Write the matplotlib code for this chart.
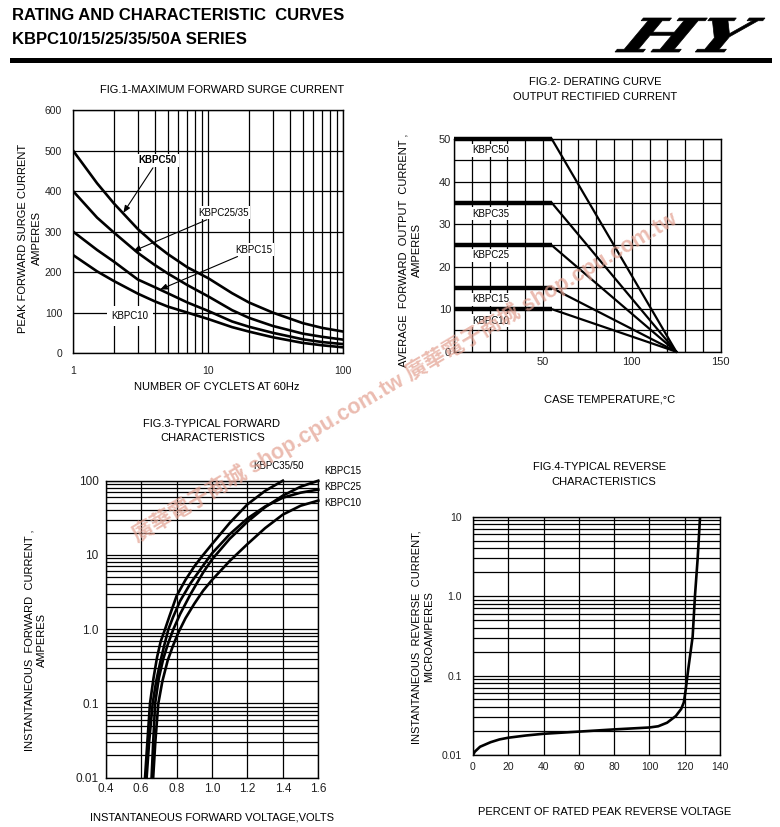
import numpy as np
import matplotlib
matplotlib.use("Agg")
import matplotlib.pyplot as plt
from matplotlib.ticker import FixedLocator, FixedFormatter, NullFormatter, LogLocator, MultipleLocator
from matplotlib.patches import Rectangle, PathPatch
from matplotlib.textpath import TextPath
from matplotlib.font_manager import FontProperties
from matplotlib.transforms import Affine2D

plt.rcParams['font.family'] = ['Liberation Sans', 'DejaVu Sans']

# ---------------- data ----------------
# Fig.1 maximum forward surge current
surge_cycles = [1, 1.5, 2, 3, 4, 5, 7, 10, 15, 20, 30, 50, 70, 100]
surge_kbpc50 = [500, 420, 370, 307, 270, 245, 212, 185, 148, 125, 100, 74, 62, 53]
surge_kbpc25_35 = [400, 335, 298, 248, 218, 197, 168, 140, 106, 87, 67, 48, 40, 33]
surge_kbpc15 = [300, 255, 226, 182, 163, 148, 125, 104, 78, 65, 50, 34, 27, 22]
surge_kbpc10 = [242, 202, 178, 147, 128, 115, 100, 84, 64, 53, 39, 25, 19, 14]

# Fig.2 derating curve
derate_models = ['KBPC50', 'KBPC35', 'KBPC25', 'KBPC15', 'KBPC10']
derate_levels = [50, 35, 25, 15, 10]
derate_knee_temp = 55
derate_zero_temp = 125

# Fig.3 typical forward characteristics
fwd_v_35_50 = [0.622, 0.635, 0.65, 0.67, 0.69, 0.71, 0.735, 0.76, 0.80, 0.85, 0.90, 0.95, 1.0, 1.1, 1.2, 1.3, 1.4]
fwd_i_35_50 = [0.01, 0.03, 0.1, 0.22, 0.42, 0.68, 1.0, 1.5, 2.8, 4.6, 7.0, 10, 14, 27, 48, 73, 100]
fwd_v_25 = [0.631, 0.645, 0.665, 0.685, 0.71, 0.73, 0.754, 0.78, 0.82, 0.88, 0.95, 1.0, 1.1, 1.2, 1.3, 1.4, 1.5, 1.6]
fwd_i_25 = [0.01, 0.03, 0.1, 0.2, 0.38, 0.6, 1.0, 1.45, 2.4, 4.2, 7.2, 10.5, 19, 31, 45, 59, 69, 76]
fwd_v_15 = [0.659, 0.668, 0.679, 0.70, 0.725, 0.75, 0.782, 0.82, 0.88, 0.95, 1.0, 1.1, 1.2, 1.3, 1.4, 1.5, 1.6]
fwd_i_15 = [0.01, 0.03, 0.1, 0.22, 0.4, 0.62, 1.0, 1.6, 3.0, 5.8, 8.7, 16.5, 28, 44, 63, 83, 100]
fwd_v_10 = [0.668, 0.68, 0.697, 0.72, 0.75, 0.78, 0.81, 0.85, 0.9, 0.95, 1.0, 1.1, 1.2, 1.3, 1.4, 1.5, 1.6]
fwd_i_10 = [0.01, 0.03, 0.1, 0.2, 0.38, 0.6, 0.9, 1.4, 2.2, 3.3, 4.6, 8.3, 14, 23, 35, 46, 54]

# Fig.4 typical reverse characteristics
rev_pct = [0, 1, 4, 10, 15, 20, 30, 40, 60, 80, 100, 105, 110, 115, 118, 119.5, 120.5, 122, 124.5, 125.8, 127.3, 128.7]
rev_cur = [0.0100, 0.0110, 0.0127, 0.0145, 0.0157, 0.0165, 0.0176, 0.0185, 0.0197, 0.0210, 0.0222,
           0.0230, 0.0255, 0.031, 0.038, 0.046, 0.065, 0.12, 0.31, 1.0, 2.9, 10.0]

# ---------------- figure ----------------
W, H = 780, 827
fig = plt.figure(figsize=(W / 100, H / 100), dpi=100)


def add_ax(l, t, r, b):
    return fig.add_axes([l / W, 1 - b / H, (r - l) / W, (b - t) / H])


def style(ax):
    ax.set_axisbelow(True)
    ax.grid(which='both', color='black', lw=0.9)
    ax.tick_params(which='both', length=0, colors='#222222')
    for s in ax.spines.values():
        s.set_color('black')
        s.set_linewidth(1.0)


CURVE_LW = 1.9
LBL = dict(fontsize=7, color='black')
WB = dict(boxstyle='square,pad=0.15', fc='white', ec='none')

# ---- Fig.1 ----
ax1 = add_ax(73.3, 110.5, 343.3, 353)
ax1.set_xscale('log')
ax1.set_xlim(1, 100)
ax1.set_ylim(0, 600)
ax1.xaxis.set_major_locator(FixedLocator([1, 10, 100]))
ax1.xaxis.set_major_formatter(FixedFormatter(['1', '10', '100']))
ax1.xaxis.set_minor_locator(LogLocator(base=10, subs=range(2, 10)))
ax1.xaxis.set_minor_formatter(NullFormatter())
ax1.yaxis.set_major_locator(MultipleLocator(100))
style(ax1)
ax1.tick_params(axis='x', pad=9, labelsize=7.5)
ax1.tick_params(axis='y', pad=8, labelsize=7.5)
for ser in [surge_kbpc50, surge_kbpc25_35, surge_kbpc15, surge_kbpc10]:
    ax1.plot(surge_cycles, ser, color='black', lw=CURVE_LW, zorder=3)
arrow = dict(arrowstyle='-|>,head_length=0.6,head_width=0.25', color='black', lw=0.8, shrinkA=1, shrinkB=0)
ax1.annotate('KBPC50', xy=(2.35, 347), xytext=(4.24, 477), ha='center', va='center',
             fontweight='bold', bbox=WB, arrowprops=arrow, zorder=5, **LBL)
ax1.annotate('KBPC25/35', xy=(2.78, 252), xytext=(8.39, 347), ha='left', va='center',
             bbox=WB, arrowprops=arrow, zorder=5, **LBL)
ax1.annotate('KBPC15', xy=(4.39, 157), xytext=(15.9, 256), ha='left', va='center',
             bbox=WB, arrowprops=arrow, zorder=5, **LBL)
ax1.text(2.63, 91, 'KBPC10', ha='center', va='center', bbox=dict(boxstyle='square,pad=0.5', fc='white', ec='none'),
         zorder=5, **LBL)

# ---- Fig.2 ----
ax2 = add_ax(454, 139, 720.7, 351.7)
ax2.set_xlim(0, 150)
ax2.set_ylim(0, 50)
ax2.xaxis.set_major_locator(FixedLocator([50, 100, 150]))
ax2.xaxis.set_minor_locator(MultipleLocator(10))
ax2.yaxis.set_major_locator(MultipleLocator(10))
ax2.yaxis.set_minor_locator(MultipleLocator(5))
style(ax2)
ax2.tick_params(axis='x', pad=4, labelsize=8)
ax2.tick_params(axis='y', pad=2, labelsize=8)
derate_label_y = [47.3, 32.4, 22.7, 12.3, 7.3]
for name, lvl, ly in zip(derate_models, derate_levels, derate_label_y):
    ax2.plot([0, derate_knee_temp], [lvl, lvl], color='black', lw=3.2, zorder=3, solid_capstyle='butt',
             clip_on=False)
    ax2.plot([derate_knee_temp, derate_zero_temp], [lvl, 0], color='black', lw=1.6, zorder=3, clip_on=False)
    ax2.text(10, ly, name, ha='left', va='center', bbox=WB, zorder=4, **LBL)

# ---- Fig.3 ----
ax3 = add_ax(105.7, 480.7, 318.3, 777.7)
ax3.set_yscale('log')
ax3.set_xlim(0.4, 1.6)
ax3.set_ylim(0.01, 100)
ax3.xaxis.set_major_locator(FixedLocator([0.4, 0.6, 0.8, 1.0, 1.2, 1.4, 1.6]))
ax3.xaxis.set_major_formatter(FixedFormatter(['0.4', '0.6', '0.8', '1.0', '1.2', '1.4', '1.6']))
ax3.yaxis.set_major_locator(FixedLocator([0.01, 0.1, 1, 10, 100]))
ax3.yaxis.set_major_formatter(FixedFormatter(['0.01', '0.1', '1.0', '10', '100']))
ax3.yaxis.set_minor_locator(LogLocator(base=10, subs=range(2, 10)))
ax3.yaxis.set_minor_formatter(NullFormatter())
style(ax3)
ax3.tick_params(axis='x', pad=4, labelsize=8.5)
ax3.tick_params(axis='y', pad=5, labelsize=8.5)
for v, i in [(fwd_v_35_50, fwd_i_35_50), (fwd_v_25, fwd_i_25), (fwd_v_15, fwd_i_15), (fwd_v_10, fwd_i_10)]:
    ax3.plot(v, i, color='black', lw=CURVE_LW, zorder=3, clip_on=False)

# ---- Fig.4 ----
ax4 = add_ax(473, 516.7, 720, 755)
ax4.set_yscale('log')
ax4.set_xlim(0, 140)
ax4.set_ylim(0.01, 10)
ax4.xaxis.set_major_locator(MultipleLocator(20))
ax4.yaxis.set_major_locator(FixedLocator([0.01, 0.1, 1, 10]))
ax4.yaxis.set_major_formatter(FixedFormatter(['0.01', '0.1', '1.0', '10']))
ax4.yaxis.set_minor_locator(LogLocator(base=10, subs=range(2, 10)))
ax4.yaxis.set_minor_formatter(NullFormatter())
style(ax4)
ax4.tick_params(axis='x', pad=5, labelsize=7.5)
ax4.tick_params(axis='y', pad=8, labelsize=7.5)
ax4.plot(rev_pct, rev_cur, color='black', lw=CURVE_LW, zorder=3)

# ---------------- overlay (pixel coordinates) ----------------
ov = fig.add_axes([0, 0, 1, 1], zorder=20)
ov.set_xlim(0, W)
ov.set_ylim(H, 0)
ov.axis('off')
ov.patch.set_visible(False)

ov.text(12, 16, 'RATING AND CHARACTERISTIC  CURVES', fontsize=12, fontweight='bold', va='center', ha='left')
ov.text(12, 39, 'KBPC10/15/25/35/50A SERIES', fontsize=12, fontweight='bold', va='center', ha='left')
ov.add_patch(Rectangle((10, 58), 762, 5, color='black', lw=0))

# logo
fp = FontProperties(family='DejaVu Serif', weight='bold', style='italic')
tp = TextPath((0, 0), 'HY', size=1, prop=fp)
p1 = Affine2D().skew_deg(18, 0).transform_path(tp)
e = p1.get_extents()
p2 = Affine2D().translate(-e.x0, -e.y0).scale(150 / e.width, -34 / e.height).translate(615, 52).transform_path(p1)
ov.add_patch(PathPatch(p2, fc='black', ec='black', lw=0.5))

TF = 8
# Fig.1 texts
ov.text(221.7, 90, 'FIG.1-MAXIMUM FORWARD SURGE CURRENT', fontsize=TF, ha='center', va='center')
ov.text(30, 238, 'PEAK FORWARD SURGE CURRENT\nAMPERES', fontsize=TF, rotation=90, ha='center', va='center',
        multialignment='center', linespacing=1.45)
ov.text(216.7, 386.7, 'NUMBER OF CYCLETS AT 60Hz', fontsize=TF, ha='center', va='center')

# Fig.2 texts
ov.text(595, 82, 'FIG.2- DERATING CURVE', fontsize=TF, ha='center', va='center')
ov.text(595, 97, 'OUTPUT RECTIFIED CURRENT', fontsize=TF, ha='center', va='center')
ov.text(410, 250, 'AVERAGE  FORWARD  OUTPUT  CURRENT ,\nAMPERES', fontsize=TF, rotation=90, ha='center',
        va='center', multialignment='center', linespacing=1.45)
ov.text(610, 400, 'CASE TEMPERATURE,\u00b0C', fontsize=TF, ha='center', va='center')

# Fig.3 texts
ov.text(211.7, 424, 'FIG.3-TYPICAL FORWARD', fontsize=TF, ha='center', va='center')
ov.text(213, 438.3, 'CHARACTERISTICS', fontsize=TF, ha='center', va='center')
ov.text(35.3, 640, 'INSTANTANEOUS  FORWARD  CURRENT ,\nAMPERES', fontsize=TF, rotation=90, ha='center',
        va='center', multialignment='center', linespacing=1.3)
ov.text(212.3, 817.3, 'INSTANTANEOUS FORWARD VOLTAGE,VOLTS', fontsize=TF, ha='center', va='center')
ov.text(278.3, 466, 'KBPC35/50', ha='center', va='center', **LBL)
ov.text(324, 471, 'KBPC15', ha='left', va='center', **LBL)
ov.text(324, 487.3, 'KBPC25', ha='left', va='center', **LBL)
ov.text(324, 502.7, 'KBPC10', ha='left', va='center', **LBL)

# Fig.4 texts
ov.text(599.3, 466.7, 'FIG.4-TYPICAL REVERSE', fontsize=TF, ha='center', va='center')
ov.text(603.3, 481.7, 'CHARACTERISTICS', fontsize=TF, ha='center', va='center')
ov.text(422.5, 637, 'INSTANTANEOUS  REVERSE  CURRENT,\nMICROAMPERES', fontsize=TF, rotation=90, ha='center',
        va='center', multialignment='center', linespacing=1.35)
ov.text(605, 811.7, 'PERCENT OF RATED PEAK REVERSE VOLTAGE', fontsize=TF, ha='center', va='center')

# watermark
ov.text(405, 377, '\u5ee3\u83ef\u96fb\u5b50\u5546\u57ce shop.cpu.com.tw \u5ee3\u83ef\u96fb\u5b50\u5546\u57ce shop.cpu.com.tw',
        family=['Liberation Sans', 'Noto Sans CJK TC'], fontweight='bold', fontsize=15.5, color='#e3a090',
        alpha=0.7, rotation=30.6, rotation_mode='anchor', ha='center', va='center', zorder=30)

fig.savefig('out.png', dpi=100)
